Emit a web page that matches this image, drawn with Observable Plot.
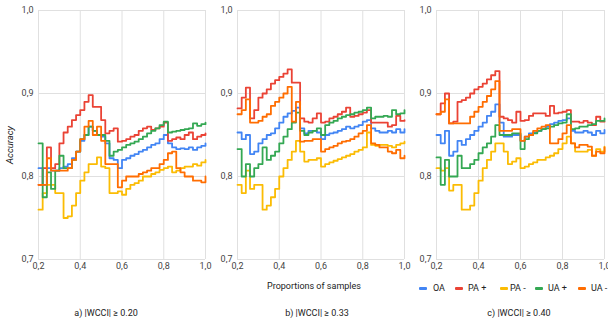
<!DOCTYPE html>
<html><head><meta charset="utf-8">
<script src="https://cdn.jsdelivr.net/npm/d3@7"></script>
<script src="https://cdn.jsdelivr.net/npm/@observablehq/plot@0.6"></script>
<style>
body{margin:0;background:#fff;}
#root{position:relative;width:608px;height:321px;font-family:Roboto,Arial,sans-serif;color:#222;overflow:hidden;background:#fff}
.panel{position:absolute;top:0}
.t{position:absolute;white-space:nowrap;font-size:9px;color:#222;line-height:1}
.sw{position:absolute;width:8px;height:3px;border-radius:1px}
</style></head><body><div id="root"></div>
<script>
const props = [0.20,0.22,0.24,0.26,0.28,0.30,0.32,0.34,0.36,0.38,0.40,0.42,0.44,0.46,0.48,0.50,0.52,0.54,0.56,0.58,0.60,0.62,0.64,0.66,0.68,0.70,0.72,0.74,0.76,0.78,0.80,0.82,0.84,0.86,0.88,0.90,0.92,0.94,0.96,0.98,1.00];
const seriesNames = ["OA","PA +","PA -","UA +","UA -"];
const seriesColors = ["#4285F4","#EA4335","#FBBC04","#34A853","#FF6D01"];
const panelTitles = ["a) |WCCI| ≥ 0.20","b) |WCCI| ≥ 0.33","c) |WCCI| ≥ 0.40"];
const xTicks = [0.2,0.4,0.6,0.8,1.0];
const yTicks = [0.7,0.8,0.9,1.0];
const xTitle = "Proportions of samples";
const yTitle = "Accuracy";

// Panel a) |WCCI| >= 0.20
const oaA      = [0.81,0.79,0.81,0.807,0.807,0.81,0.812,0.815,0.822,0.83,0.843,0.85,0.86,0.855,0.85,0.848,0.84,0.822,0.82,0.81,0.82,0.822,0.825,0.827,0.83,0.832,0.835,0.838,0.84,0.845,0.85,0.84,0.835,0.833,0.834,0.833,0.835,0.832,0.835,0.837,0.84];
const paPlusA  = [0.79,0.81,0.835,0.81,0.815,0.84,0.853,0.86,0.868,0.874,0.88,0.89,0.898,0.884,0.884,0.868,0.852,0.855,0.858,0.842,0.843,0.845,0.848,0.85,0.855,0.858,0.86,0.856,0.858,0.86,0.865,0.843,0.845,0.847,0.845,0.85,0.853,0.845,0.848,0.85,0.852];
const paMinusA = [0.76,0.78,0.79,0.79,0.78,0.78,0.75,0.752,0.765,0.78,0.795,0.805,0.815,0.815,0.823,0.812,0.81,0.78,0.78,0.782,0.778,0.785,0.79,0.792,0.795,0.80,0.80,0.803,0.805,0.808,0.81,0.812,0.805,0.807,0.81,0.812,0.812,0.815,0.813,0.817,0.82];
const uaPlusA  = [0.84,0.775,0.805,0.785,0.807,0.825,0.81,0.81,0.82,0.83,0.845,0.85,0.86,0.855,0.85,0.85,0.843,0.825,0.83,0.832,0.835,0.838,0.84,0.842,0.845,0.848,0.852,0.855,0.858,0.862,0.866,0.853,0.854,0.855,0.856,0.857,0.858,0.864,0.861,0.863,0.865];
const uaMinusA = [0.79,0.79,0.822,0.807,0.807,0.807,0.807,0.81,0.82,0.83,0.845,0.86,0.867,0.85,0.86,0.843,0.815,0.815,0.815,0.787,0.795,0.80,0.80,0.80,0.803,0.805,0.807,0.81,0.81,0.815,0.82,0.828,0.83,0.81,0.805,0.80,0.80,0.795,0.795,0.793,0.80];

// Panel b) |WCCI| >= 0.33
const oaB      = [0.853,0.845,0.85,0.827,0.83,0.84,0.845,0.85,0.852,0.858,0.865,0.872,0.876,0.879,0.883,0.858,0.852,0.855,0.855,0.853,0.845,0.85,0.852,0.853,0.855,0.857,0.86,0.858,0.86,0.862,0.866,0.868,0.858,0.855,0.853,0.853,0.855,0.853,0.857,0.853,0.857];
const paPlusB  = [0.882,0.895,0.907,0.87,0.88,0.895,0.9,0.905,0.912,0.916,0.92,0.924,0.929,0.913,0.913,0.87,0.866,0.865,0.87,0.876,0.865,0.866,0.87,0.872,0.875,0.878,0.883,0.872,0.873,0.875,0.877,0.88,0.865,0.865,0.865,0.865,0.86,0.862,0.873,0.867,0.868];
const paMinusB = [0.79,0.78,0.807,0.785,0.79,0.79,0.76,0.765,0.775,0.785,0.80,0.81,0.82,0.83,0.843,0.83,0.818,0.82,0.82,0.822,0.812,0.815,0.817,0.819,0.821,0.823,0.825,0.827,0.83,0.832,0.835,0.853,0.838,0.837,0.838,0.838,0.837,0.835,0.838,0.84,0.842];
const uaPlusB  = [0.833,0.80,0.815,0.80,0.81,0.815,0.835,0.82,0.825,0.83,0.84,0.848,0.857,0.865,0.877,0.855,0.85,0.853,0.855,0.858,0.85,0.862,0.865,0.867,0.87,0.872,0.874,0.875,0.877,0.878,0.88,0.883,0.87,0.872,0.872,0.873,0.872,0.88,0.875,0.876,0.88];
const uaMinusB = [0.875,0.88,0.893,0.865,0.865,0.867,0.872,0.875,0.885,0.89,0.895,0.9,0.908,0.866,0.89,0.842,0.843,0.843,0.845,0.845,0.83,0.833,0.835,0.837,0.84,0.842,0.843,0.845,0.848,0.852,0.855,0.862,0.84,0.838,0.835,0.835,0.83,0.828,0.832,0.822,0.825];

// Panel c) |WCCI| >= 0.40
const oaC      = [0.85,0.84,0.855,0.825,0.83,0.843,0.838,0.845,0.85,0.855,0.86,0.865,0.873,0.878,0.887,0.865,0.848,0.848,0.85,0.85,0.843,0.848,0.852,0.853,0.855,0.857,0.86,0.863,0.865,0.867,0.868,0.87,0.855,0.853,0.853,0.855,0.853,0.85,0.855,0.852,0.856];
const paPlusC  = [0.875,0.888,0.9,0.864,0.866,0.89,0.892,0.895,0.9,0.905,0.908,0.912,0.917,0.922,0.927,0.872,0.87,0.868,0.865,0.878,0.867,0.868,0.873,0.876,0.876,0.876,0.873,0.885,0.876,0.877,0.878,0.88,0.866,0.866,0.865,0.867,0.865,0.862,0.872,0.866,0.866];
const paMinusC = [0.81,0.807,0.81,0.783,0.79,0.79,0.76,0.76,0.765,0.78,0.795,0.81,0.82,0.83,0.84,0.84,0.83,0.815,0.818,0.822,0.81,0.812,0.815,0.817,0.82,0.82,0.823,0.825,0.828,0.833,0.84,0.848,0.84,0.83,0.83,0.83,0.832,0.825,0.833,0.83,0.836];
const uaPlusC  = [0.823,0.79,0.82,0.80,0.80,0.825,0.81,0.81,0.815,0.82,0.828,0.835,0.84,0.848,0.862,0.85,0.85,0.85,0.852,0.852,0.833,0.845,0.85,0.852,0.855,0.857,0.858,0.86,0.862,0.864,0.865,0.875,0.857,0.858,0.86,0.86,0.862,0.863,0.867,0.867,0.87];
const uaMinusC = [0.875,0.878,0.893,0.864,0.864,0.864,0.864,0.864,0.872,0.878,0.884,0.89,0.897,0.905,0.915,0.855,0.855,0.855,0.857,0.857,0.843,0.848,0.85,0.855,0.858,0.86,0.862,0.84,0.84,0.845,0.852,0.862,0.84,0.835,0.838,0.838,0.836,0.825,0.83,0.828,0.835];

const panels = [
  {vals:[oaA,paPlusA,paMinusA,uaPlusA,uaMinusA], left:0,   ml:38, mr:3, cap:106},
  {vals:[oaB,paPlusB,paMinusB,uaPlusB,uaMinusB], left:200, ml:37, mr:4, cap:317},
  {vals:[oaC,paPlusC,paMinusC,uaPlusC,uaMinusC], left:400, ml:36, mr:4, cap:519}
];

const fmt = d => d.toFixed(1).replace(".", ",");
const root = document.getElementById("root");

function addText(txt, x, y, opts = {}) {
  const el = document.createElement("div");
  el.className = "t";
  el.textContent = txt;
  el.style.left = x + "px";
  el.style.top = y + "px";
  el.style.transform = opts.transform || "translate(-50%,-50%)";
  if (opts.style) Object.assign(el.style, opts.style);
  root.appendChild(el);
  return el;
}

panels.forEach((p, k) => {
  const rows = [];
  seriesNames.forEach((s, i) => p.vals[i].forEach((v, j) => rows.push({series: s, x: props[j], y: v})));
  const chart = Plot.plot({
    width: 208, height: 271,
    marginLeft: p.ml, marginRight: p.mr, marginTop: 10, marginBottom: 12,
    style: {fontFamily: "Roboto, Arial, sans-serif", fontSize: "9px", color: "#444", background: "transparent", overflow: "visible"},
    x: {domain: [0.2, 1], ticks: xTicks, tickFormat: fmt, tickSize: 0, tickPadding: 3, label: null},
    y: {domain: [0.7, 1], ticks: yTicks, tickFormat: fmt, tickSize: 0, tickPadding: 5, label: null},
    color: {domain: seriesNames, range: seriesColors},
    marks: [
      Plot.gridX(xTicks, {stroke: "#e0e0e0", strokeOpacity: 1}),
      Plot.gridY(yTicks, {stroke: "#e0e0e0", strokeOpacity: 1}),
      Plot.line(rows, {x: "x", y: "y", z: "series", stroke: "series", strokeWidth: 1.8, curve: "step-after"})
    ]
  });
  const wrap = document.createElement("div");
  wrap.className = "panel";
  wrap.style.left = p.left + "px";
  wrap.appendChild(chart);
  root.appendChild(wrap);
  addText(panelTitles[k], p.cap, 313);
});

addText(yTitle, 10, 145, {transform: "translate(-50%,-50%) rotate(-90deg)", style: {fontStyle: "italic", fontSize: "9.5px"}});
addText(xTitle, 314, 286);

const swX = [419, 455, 500, 535, 578];
const txX = [433, 468, 510, 548, 591];
seriesNames.forEach((s, i) => {
  const sw = document.createElement("div");
  sw.className = "sw";
  sw.style.left = swX[i] + "px";
  sw.style.top = "286.5px";
  sw.style.background = seriesColors[i];
  root.appendChild(sw);
  addText(s, txX[i], 288, {transform: "translate(0,-50%)"});
});
</script></body></html>
